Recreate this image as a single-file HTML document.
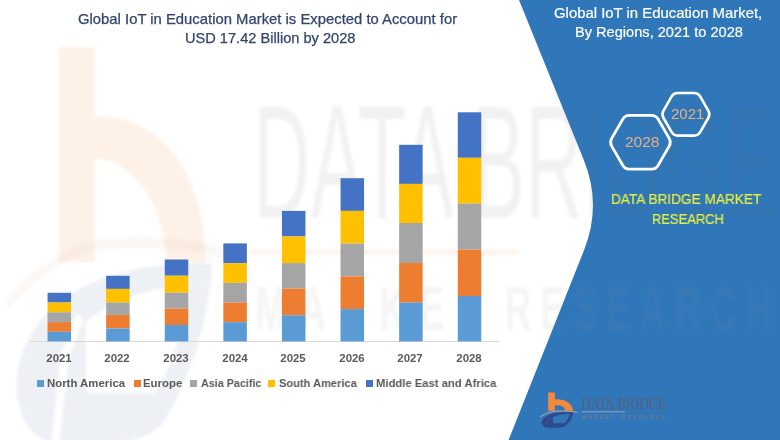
<!DOCTYPE html>
<html><head><meta charset="utf-8">
<style>
html,body{margin:0;padding:0;}
body{width:780px;height:440px;overflow:hidden;position:relative;background:#fff;font-family:"Liberation Sans",sans-serif;}
.t{position:absolute;white-space:nowrap;line-height:1;transform-origin:0 0;-webkit-font-smoothing:antialiased;will-change:transform;}
.sq{position:absolute;top:380.3px;width:7px;height:7px;}
svg{position:absolute;left:0;top:0;}
</style></head><body>
<svg width="780" height="440" viewBox="0 0 780 440">
<defs>
<filter id="wb" x="-5%" y="-5%" width="110%" height="110%"><feGaussianBlur stdDeviation="1.5"/></filter>
</defs>
<path d="M519 0 L780 0 L780 440 L508.6 440 L584.1 250 Q602 205 583.8 160 Z" fill="#3077BA"/>
<g opacity="0.11" filter="url(#wb)"><path d="M59,47 L94.5,47 L94.5,117 C150,112 204,160 206,262 L166,262 C165,200 130,160 94.5,158 L94.5,262 L59,262 Z" fill="#F28A3A"/></g>
<g opacity="0.08" filter="url(#wb)">
<g transform="matrix(6.15 0 0 11.2 -3314.9 -4347.88)">
<path d="M541.7,423 C541.5,419 546,415.5 553.3,413.6 C560,412 567,411.6 573.5,411.7 C573,416 571,421 565.6,425.9 C563,427.5 559,427.8 556.4,427.8 L548.4,427.8 C545,427.7 542,426 541.7,423 Z M552.9,417 C557.5,414.9 563,413.9 569.6,413.7 C569,417.5 567,421 564.2,423.3 L553.1,423.3 Z" fill="#2E4A8B" fill-rule="evenodd"/>
<path d="M548,428 L549.5,420 L552,416.5" fill="none" stroke="#fff" stroke-width="1.2"/>
</g>
<g transform="matrix(6.15 0 0 10.5 -3314.9 -4073.2)">
<path d="M540.1,416.9 C546,413 552,411.3 557,411.1 C565,410.8 572,411.3 577.3,412.4" fill="none" stroke="#C9A58E" stroke-width="1"/>
<line x1="579.8" y1="411.95" x2="623.2" y2="411.95" stroke="#E07A3A" stroke-width="0.5"/>
<text x="580.1" y="408.7" font-family="Liberation Sans" font-size="15.3" textLength="85.4" lengthAdjust="spacingAndGlyphs" fill="#606060">DATA BRIDGE</text>
</g></g>
<g opacity="0.085" filter="url(#wb)">
<g transform="matrix(6.15 0 0 10.5 -3314.9 -4073.2)">
<text x="580.5" y="419.4" font-family="Liberation Sans" font-weight="700" font-size="6.0" textLength="36.6" lengthAdjust="spacing" fill="#8C8C8C">MARKET</text>
<text x="621.1" y="419.4" font-family="Liberation Sans" font-weight="700" font-size="6.0" textLength="43.4" lengthAdjust="spacing" fill="#8C8C8C">RESEARCH</text>
</g></g>
<g>
<path d="M548.1,392.4 L554.9,392.4 L554.9,410.8 L548.1,410.8 Z M554.9,399.3 C563,398.6 572.5,402 573,410.8 L565.3,410.8 C565,406.5 560,405 554.9,405.3 Z" fill="#F28A3A"/>
<path d="M541.7,423 C541.5,419 546,415.5 553.3,413.6 C560,412 567,411.6 573.5,411.7 C573,416 571,421 565.6,425.9 C563,427.5 559,427.8 556.4,427.8 L548.4,427.8 C545,427.7 542,426 541.7,423 Z M552.9,417 C557.5,414.9 563,413.9 569.6,413.7 C569,417.5 567,421 564.2,423.3 L553.1,423.3 Z" fill="#2E4A8B" fill-rule="evenodd"/>
<path d="M545.6,424.6 L551.2,417.4" stroke="#3D66A6" stroke-width="0.7"/>
<path d="M540.1,416.9 C546,413 552,411.3 557,411.1 C565,410.8 572,411.3 577.3,412.4" fill="none" stroke="#BFAA9A" stroke-width="1"/>
<text x="581.5" y="408.7" font-family="Liberation Serif" font-size="16.5" textLength="85" lengthAdjust="spacingAndGlyphs" fill="#56607A">DATA BRIDGE</text>
<line x1="581.5" y1="411.8" x2="624.7" y2="411.8" stroke="#B9AFA8" stroke-width="0.8"/>
<text x="581.5" y="419" font-family="Liberation Sans" font-weight="700" font-size="5.2" textLength="32" lengthAdjust="spacing" fill="#6F7C94">MARKET</text>
<text x="621.5" y="419" font-family="Liberation Sans" font-weight="700" font-size="5.2" textLength="43" lengthAdjust="spacing" fill="#6F7C94">RESEARCH</text>
</g>
<line x1="30" y1="341.5" x2="499" y2="341.5" stroke="#D9D9D9" stroke-width="1"/>
<rect x="47.55" y="292.8" width="23.5" height="9.7" fill="#4472C4"/>
<rect x="47.55" y="302.5" width="23.5" height="9.8" fill="#FFC000"/>
<rect x="47.55" y="312.3" width="23.5" height="9.8" fill="#A5A5A5"/>
<rect x="47.55" y="322.1" width="23.5" height="9.7" fill="#ED7D31"/>
<rect x="47.55" y="331.8" width="23.5" height="9.6" fill="#5B9BD5"/>
<rect x="106.15" y="275.8" width="23.5" height="13.1" fill="#4472C4"/>
<rect x="106.15" y="288.9" width="23.5" height="13.6" fill="#FFC000"/>
<rect x="106.15" y="302.5" width="23.5" height="12.4" fill="#A5A5A5"/>
<rect x="106.15" y="314.9" width="23.5" height="13.6" fill="#ED7D31"/>
<rect x="106.15" y="328.5" width="23.5" height="12.9" fill="#5B9BD5"/>
<rect x="164.75" y="259.5" width="23.5" height="16.2" fill="#4472C4"/>
<rect x="164.75" y="275.7" width="23.5" height="17.0" fill="#FFC000"/>
<rect x="164.75" y="292.7" width="23.5" height="15.9" fill="#A5A5A5"/>
<rect x="164.75" y="308.6" width="23.5" height="16.4" fill="#ED7D31"/>
<rect x="164.75" y="325.0" width="23.5" height="16.4" fill="#5B9BD5"/>
<rect x="223.35" y="243.4" width="23.5" height="19.9" fill="#4472C4"/>
<rect x="223.35" y="263.3" width="23.5" height="19.6" fill="#FFC000"/>
<rect x="223.35" y="282.9" width="23.5" height="19.6" fill="#A5A5A5"/>
<rect x="223.35" y="302.5" width="23.5" height="19.7" fill="#ED7D31"/>
<rect x="223.35" y="322.2" width="23.5" height="19.2" fill="#5B9BD5"/>
<rect x="281.95" y="210.9" width="23.5" height="25.6" fill="#4472C4"/>
<rect x="281.95" y="236.5" width="23.5" height="26.6" fill="#FFC000"/>
<rect x="281.95" y="263.1" width="23.5" height="25.5" fill="#A5A5A5"/>
<rect x="281.95" y="288.6" width="23.5" height="26.6" fill="#ED7D31"/>
<rect x="281.95" y="315.2" width="23.5" height="26.2" fill="#5B9BD5"/>
<rect x="340.55" y="178.2" width="23.5" height="32.7" fill="#4472C4"/>
<rect x="340.55" y="210.9" width="23.5" height="32.7" fill="#FFC000"/>
<rect x="340.55" y="243.6" width="23.5" height="32.8" fill="#A5A5A5"/>
<rect x="340.55" y="276.4" width="23.5" height="32.7" fill="#ED7D31"/>
<rect x="340.55" y="309.1" width="23.5" height="32.3" fill="#5B9BD5"/>
<rect x="399.15" y="144.8" width="23.5" height="39.1" fill="#4472C4"/>
<rect x="399.15" y="183.9" width="23.5" height="39.1" fill="#FFC000"/>
<rect x="399.15" y="223.0" width="23.5" height="40.0" fill="#A5A5A5"/>
<rect x="399.15" y="263.0" width="23.5" height="39.6" fill="#ED7D31"/>
<rect x="399.15" y="302.6" width="23.5" height="38.8" fill="#5B9BD5"/>
<rect x="457.75" y="112.3" width="23.5" height="45.5" fill="#4472C4"/>
<rect x="457.75" y="157.8" width="23.5" height="45.8" fill="#FFC000"/>
<rect x="457.75" y="203.6" width="23.5" height="46.0" fill="#A5A5A5"/>
<rect x="457.75" y="249.6" width="23.5" height="46.4" fill="#ED7D31"/>
<rect x="457.75" y="296.0" width="23.5" height="45.4" fill="#5B9BD5"/>
<path d="M611.69,146.15 Q609.45,142.25 611.69,138.35 L622.71,119.20 Q624.95,115.30 629.45,115.30 L651.45,115.30 Q655.95,115.30 658.19,119.20 L669.21,138.35 Q671.45,142.25 669.21,146.15 L658.19,165.30 Q655.95,169.20 651.45,169.20 L629.45,169.20 Q624.95,169.20 622.71,165.30 Z" fill="none" stroke="#fff" stroke-width="2.8"/>
<path d="M663.39,117.77 Q661.40,114.30 663.39,110.83 L671.66,96.47 Q673.65,93.00 677.65,93.00 L694.15,93.00 Q698.15,93.00 700.14,96.47 L708.41,110.83 Q710.40,114.30 708.41,117.77 L700.14,132.13 Q698.15,135.60 694.15,135.60 L677.65,135.60 Q673.65,135.60 671.66,132.13 Z" fill="none" stroke="#fff" stroke-width="2.6"/>
</svg>
<div class="t" style="left:78.00px;top:11.64px;font-size:14.6px;font-weight:400;color:#31446F;transform:scaleX(1.0167);-webkit-text-stroke:0.25px #31446F">Global IoT in Education Market is Expected to Account for</div>
<div class="t" style="left:184.50px;top:31.24px;font-size:14.6px;font-weight:400;color:#31446F;transform:scaleX(1.0000);-webkit-text-stroke:0.25px #31446F">USD 17.42 Billion by 2028</div>
<div class="t" style="left:554.00px;top:5.84px;font-size:14.6px;font-weight:400;color:#fff;transform:scaleX(1.0198);-webkit-text-stroke:0.2px #fff">Global IoT in Education Market,</div>
<div class="t" style="left:574.80px;top:25.04px;font-size:14.6px;font-weight:400;color:#fff;transform:scaleX(1.0000);-webkit-text-stroke:0.2px #fff">By Regions, 2021 to 2028</div>
<div class="t" style="left:624.70px;top:134.28px;font-size:15.5px;font-weight:400;color:#E0B28C;transform:scaleX(1.0000);">2028</div>
<div class="t" style="left:670.50px;top:106.30px;font-size:15px;font-weight:400;color:#E0B28C;transform:scaleX(1.0000);">2021</div>
<div class="t" style="left:610.70px;top:191.70px;font-size:14.3px;font-weight:400;color:#E6F03C;transform:scaleX(0.9540);-webkit-text-stroke:0.2px #E6F03C">DATA BRIDGE MARKET</div>
<div class="t" style="left:651.50px;top:211.60px;font-size:14.3px;font-weight:400;color:#E6F03C;transform:scaleX(0.9050);-webkit-text-stroke:0.2px #E6F03C">RESEARCH</div>
<div class="t" style="left:18.80px;width:80px;text-align:center;top:352.65px;font-size:11.4px;font-weight:700;color:#595959">2021</div>
<div class="t" style="left:77.40px;width:80px;text-align:center;top:352.65px;font-size:11.4px;font-weight:700;color:#595959">2022</div>
<div class="t" style="left:136.00px;width:80px;text-align:center;top:352.65px;font-size:11.4px;font-weight:700;color:#595959">2023</div>
<div class="t" style="left:194.60px;width:80px;text-align:center;top:352.65px;font-size:11.4px;font-weight:700;color:#595959">2024</div>
<div class="t" style="left:253.20px;width:80px;text-align:center;top:352.65px;font-size:11.4px;font-weight:700;color:#595959">2025</div>
<div class="t" style="left:311.80px;width:80px;text-align:center;top:352.65px;font-size:11.4px;font-weight:700;color:#595959">2026</div>
<div class="t" style="left:370.40px;width:80px;text-align:center;top:352.65px;font-size:11.4px;font-weight:700;color:#595959">2027</div>
<div class="t" style="left:429.00px;width:80px;text-align:center;top:352.65px;font-size:11.4px;font-weight:700;color:#595959">2028</div>
<div class="sq" style="left:37px;background:#5B9BD5"></div>
<div class="t" style="left:47.30px;top:377.75px;font-size:11.4px;font-weight:700;color:#595959;transform:scaleX(1.0000);">North America</div>
<div class="sq" style="left:133.7px;background:#ED7D31"></div>
<div class="t" style="left:143.40px;top:377.75px;font-size:11.4px;font-weight:700;color:#595959;transform:scaleX(1.0000);">Europe</div>
<div class="sq" style="left:190.2px;background:#A5A5A5"></div>
<div class="t" style="left:200.60px;top:377.75px;font-size:11.4px;font-weight:700;color:#595959;transform:scaleX(0.9440);">Asia Pacific</div>
<div class="sq" style="left:268.3px;background:#FFC000"></div>
<div class="t" style="left:279.00px;top:377.75px;font-size:11.4px;font-weight:700;color:#595959;transform:scaleX(0.9720);">South America</div>
<div class="sq" style="left:365.6px;background:#4472C4"></div>
<div class="t" style="left:375.60px;top:377.75px;font-size:11.4px;font-weight:700;color:#595959;transform:scaleX(0.9880);">Middle East and Africa</div>
</body></html>
